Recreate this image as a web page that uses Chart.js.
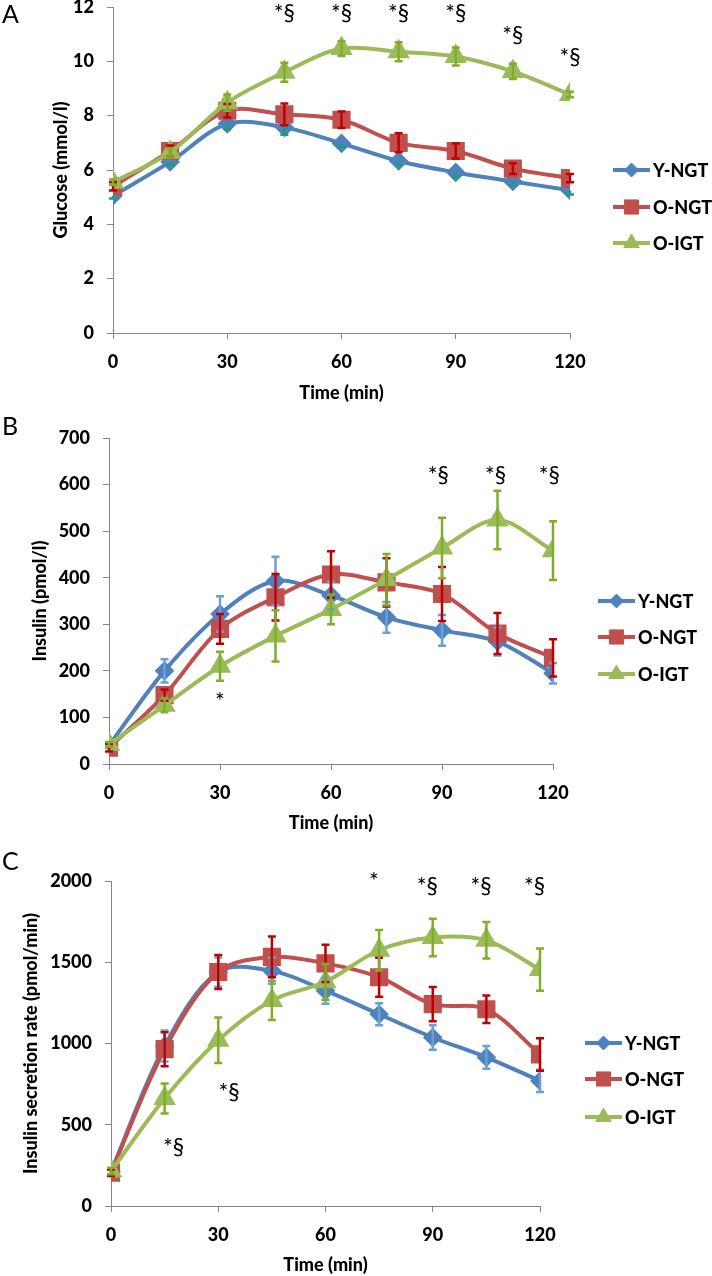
<!DOCTYPE html>
<html>
<head>
<meta charset="utf-8">
<script src="https://cdn.jsdelivr.net/npm/chart.js"></script>
<style>
  body { margin: 0; background: #fff; }
  #wrap { position: relative; width: 712px; height: 1276px; overflow: hidden; }
  .panel { position: absolute; left: 0; width: 712px; }
  .tag { position: absolute; left: 2px; font: 25px Lato, sans-serif; line-height: 25px; color: #000; }
</style>
</head>
<body>
<div id="wrap">
  <div class="panel" style="top:-20px;height:440px"><canvas id="chartA"></canvas></div>
  <div class="panel" style="top:400px;height:440px"><canvas id="chartB"></canvas></div>
  <div class="panel" style="top:820px;height:456px"><canvas id="chartC"></canvas></div>
  <div class="tag" style="top:1px">A</div>
  <div class="tag" style="top:413px">B</div>
  <div class="tag" style="top:848px">C</div>
</div>
<script>
// OGTT time points
let timeMin = [0, 15, 30, 45, 60, 75, 90, 105, 120];
let groups = ["Y-NGT", "O-NGT", "O-IGT"];

// A - glucose (mmol/l), mean and SEM
let glucoseYNGT = [5.05, 6.3, 7.7, 7.57, 6.98, 6.33, 5.91, 5.58, 5.25];
let glucoseONGT = [5.4, 6.7, 8.18, 8.05, 7.85, 7.0, 6.7, 6.05, 5.7];
let glucoseOIGT = [5.55, 6.65, 8.48, 9.6, 10.47, 10.35, 10.18, 9.63, 8.78];
let glucoseErrYNGT = [0.1, 0.12, 0.2, 0.27, 0.13, 0.15, 0.17, 0.12, 0.15];
let glucoseErrONGT = [0.15, 0.2, 0.25, 0.4, 0.3, 0.35, 0.28, 0.2, 0.15];
let glucoseErrOIGT = [0.1, 0.15, 0.3, 0.35, 0.27, 0.35, 0.33, 0.28, 0.1];

// B - insulin (pmol/l)
let insulinYNGT = [40, 200, 322, 393, 362, 315, 287, 263, 195];
let insulinONGT = [35, 148, 290, 358, 407, 390, 365, 280, 228];
let insulinOIGT = [42, 126, 210, 275, 332, 396, 464, 524, 458];
let insulinErrYNGT = [5, 25, 38, 52, 30, 33, 33, 30, 22];
let insulinErrONGT = [8, 12, 32, 50, 50, 52, 58, 44, 40];
let insulinErrOIGT = [5, 15, 31, 55, 32, 55, 65, 63, 63];

// C - insulin secretion rate (pmol/min)
let isrYNGT = [212, 985, 1440, 1447, 1325, 1180, 1037, 915, 770];
let isrONGT = [205, 965, 1440, 1533, 1493, 1408, 1242, 1211, 933];
let isrOIGT = [215, 662, 1020, 1265, 1380, 1574, 1652, 1635, 1455];
let isrErrYNGT = [20, 95, 90, 80, 80, 68, 75, 70, 68];
let isrErrONGT = [20, 105, 105, 125, 115, 120, 105, 85, 100];
let isrErrOIGT = [20, 92, 140, 120, 110, 125, 115, 112, 130];

// significance marks: [time, value, text]
let marksA = [[45, 11.75, "*§"], [60, 11.75, "*§"], [75, 11.75, "*§"], [90, 11.75, "*§"], [105, 10.95, "*§"], [120, 10.15, "*§"]];
let marksB = [[30, 134, "*"], [89, 620, "*§"], [104.5, 620, "*§"], [119, 620, "*§"]];
let marksC = [[17.5, 357, "*§"], [33, 695, "*§"], [73.5, 1994, "*"], [88.5, 1965, "*§"], [103.5, 1965, "*§"], [118.5, 1965, "*§"]];

Chart.defaults.font.family = "Lato, 'Open Sans', sans-serif";
Chart.defaults.color = "#000";

let lineColors = ["#4f81bd", "#c0504d", "#9bbb59"];
let pointStyles = ["rectRot", "rect", "triangle"];
let pointSizes = [7, 10, 9];

function pts(vals) {
    return timeMin.map((t, i) => ({ x: t, y: vals[i] }));
}

let errorBars = {
    id: "errorBars",
    afterDatasetsDraw(chart) {
        let ctx = chart.ctx;
        let ys = chart.scales.y;
        chart.data.datasets.forEach((ds, i) => {
            let meta = chart.getDatasetMeta(i);
            ctx.save();
            ctx.strokeStyle = ds.errColor;
            ctx.lineWidth = 2.5;
            meta.data.forEach((p, j) => {
                let v = ds.data[j].y, e = ds.errors[j];
                let top = ds.errDir === "down" ? p.y : ys.getPixelForValue(v + e);
                let bot = ds.errDir === "up" ? p.y : ys.getPixelForValue(v - e);
                ctx.beginPath();
                ctx.moveTo(p.x, top);
                ctx.lineTo(p.x, bot);
                if (ds.errDir !== "down") { ctx.moveTo(p.x - 4, top); ctx.lineTo(p.x + 4, top); }
                if (ds.errDir !== "up") { ctx.moveTo(p.x - 4, bot); ctx.lineTo(p.x + 4, bot); }
                ctx.stroke();
            });
            ctx.restore();
        });
    }
};

let sideLegend = {
    id: "sideLegend",
    afterDraw(chart, args, opts) {
        let ctx = chart.ctx;
        ctx.save();
        chart.data.datasets.forEach((ds, i) => {
            let y = opts.ys[i];
            ctx.strokeStyle = ds.borderColor;
            ctx.lineWidth = 4;
            ctx.beginPath();
            ctx.moveTo(opts.x1, y);
            ctx.lineTo(opts.x2, y);
            ctx.stroke();
            ctx.fillStyle = ds.borderColor;
            ctx.strokeStyle = ds.borderColor;
            ctx.lineWidth = 1;
            Chart.helpers.drawPoint(ctx, { pointStyle: ds.pointStyle, radius: ds.pointRadius, rotation: 0, borderWidth: 1 }, (opts.x1 + opts.x2) / 2, y);
            ctx.fillStyle = "#000";
            ctx.font = "900 18px Lato, sans-serif";
            ctx.textBaseline = "middle";
            ctx.textAlign = "left";
            ctx.fillText(ds.label, opts.x2 + 3, y + 1);
        });
        ctx.restore();
    }
};

let sigMarks = {
    id: "sigMarks",
    afterDraw(chart, args, opts) {
        let ctx = chart.ctx;
        ctx.save();
        ctx.fillStyle = "#000";
        ctx.font = "23px Lato, sans-serif";
        ctx.textAlign = "center";
        ctx.textBaseline = "middle";
        opts.list.forEach(m => {
            ctx.fillText(m[2], chart.scales.x.getPixelForValue(m[0]), chart.scales.y.getPixelForValue(m[1]));
        });
        ctx.restore();
    }
};

function makeChart(id, series, errs, errDirs, errColors, yTitle, yMax, yStep, marks, geo) {
    let datasets = series.map((s, i) => ({
        label: groups[i],
        data: pts(s),
        errors: errs[i],
        errDir: errDirs[i],
        errColor: errColors[i],
        borderColor: lineColors[i],
        backgroundColor: lineColors[i],
        pointBackgroundColor: lineColors[i],
        pointBorderColor: lineColors[i],
        pointStyle: pointStyles[i],
        pointRadius: pointSizes[i],
        borderWidth: 4,
        tension: 0.33,
        order: 3 - i
    }));
    return new Chart(document.getElementById(id), {
        type: "line",
        data: { datasets: datasets },
        plugins: [errorBars, sideLegend, sigMarks],
        options: {
            responsive: true,
            maintainAspectRatio: false,
            animation: false,
            layout: { padding: geo.pad },
            plugins: {
                legend: { display: false },
                tooltip: { enabled: false },
                sideLegend: geo.legend,
                sigMarks: { list: marks }
            },
            scales: {
                x: {
                    type: "linear",
                    min: 0, max: 120,
                    afterFit: s => { s.height = geo.xh; },
                    ticks: { stepSize: 30, padding: 12, font: { size: 18, weight: "900" } },
                    grid: { drawOnChartArea: false, drawTicks: true, tickLength: 6, color: "#868686" },
                    border: { color: "#868686" },
                    title: { display: true, text: "Time (min)", padding: { top: 4, bottom: 0 }, font: { size: 18, weight: "900" } }
                },
                y: {
                    min: 0, max: yMax,
                    afterFit: s => { s.width = geo.yw; },
                    ticks: { stepSize: yStep, padding: 13, font: { size: 18, weight: "900" }, callback: v => String(v) },
                    grid: { drawOnChartArea: false, drawTicks: true, tickLength: 6, color: "#868686" },
                    border: { color: "#868686" },
                    title: { display: true, text: yTitle, padding: { top: 4, bottom: 4 }, font: { size: 18, weight: "900" } }
                }
            }
        }
    });
}

makeChart("chartA",
    [glucoseYNGT, glucoseONGT, glucoseOIGT],
    [glucoseErrYNGT, glucoseErrONGT, glucoseErrOIGT],
    ["down", "both", "both"],
    ["#1f9e74", "#c00000", "#7fae2a"],
    "Glucose (mmol/l)", 12, 2, marksA,
    { pad: { left: 46, right: 142, top: 27, bottom: 16 }, yw: 67, xh: 71,
      legend: { x1: 613, x2: 650, ys: [190, 227, 263] } });

makeChart("chartB",
    [insulinYNGT, insulinONGT, insulinOIGT],
    [insulinErrYNGT, insulinErrONGT, insulinErrOIGT],
    ["both", "both", "both"],
    ["#6a9fd8", "#c00000", "#7fae2a"],
    "Insulin (pmol/l)", 700, 100, marksB,
    { pad: { left: 25, right: 159, top: 38, bottom: 6 }, yw: 84, xh: 70,
      legend: { x1: 598, x2: 635, ys: [201, 237, 274] } });

makeChart("chartC",
    [isrYNGT, isrONGT, isrOIGT],
    [isrErrYNGT, isrErrONGT, isrErrOIGT],
    ["both", "both", "both"],
    ["#6a9fd8", "#c00000", "#7fae2a"],
    "Insulin secretion rate (pmol/min)", 2000, 500, marksC,
    { pad: { left: 16, right: 172, top: 61, bottom: 0 }, yw: 95, xh: 70,
      legend: { x1: 585, x2: 622, ys: [223, 259, 297] } });
</script>
</body>
</html>
